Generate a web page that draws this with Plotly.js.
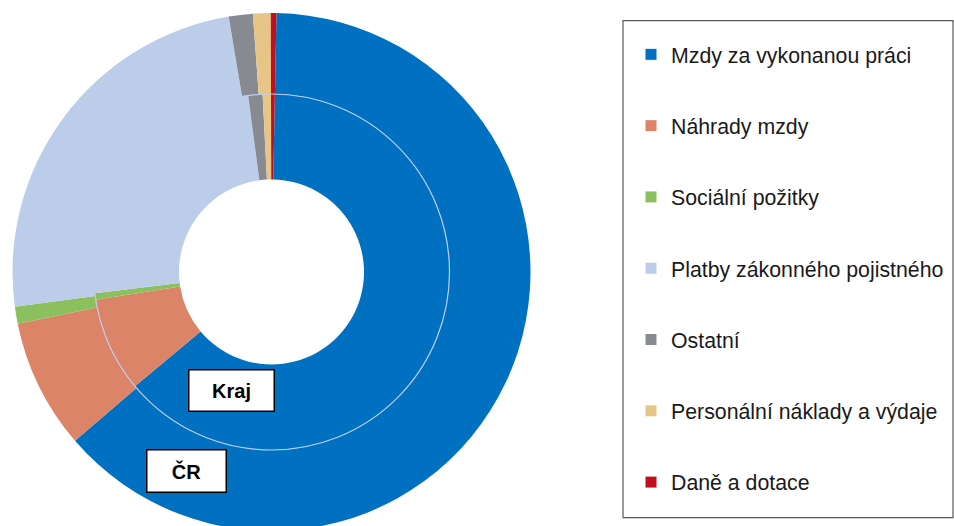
<!DOCTYPE html>
<html>
<head>
<meta charset="utf-8">
<script src="https://cdn.plot.ly/plotly-3.0.1.min.js"></script>
<style>
  html, body { margin: 0; padding: 0; overflow: hidden; background: #fff; }
  #chart { width: 954px; height: 545px; }
</style>
</head>
<body>
<div id="chart"></div>
<script>
// ---- data ----
const categories = [
  'Mzdy za vykonanou práci',
  'Náhrady mzdy',
  'Sociální požitky',
  'Platby zákonného pojistného',
  'Ostatní',
  'Personální náklady a výdaje',
  'Daně a dotace'
];
const crValues   = [63.4, 8.1, 1.05, 24.5, 1.5, 1.1, 0.35];   // outer ring (ČR)
const krajValues = [63.6, 8.6, 0.6, 24.8, 1.3, 0.75, 0.35];   // inner ring (Kraj)
const sliceColors = ['#0070C0', '#DB8467', '#8CBF5E', '#BCCDEA', '#878A91', '#E6C587', '#C0101F'];
const ringLabels = ['Kraj', 'ČR'];

// ---- layout geometry (pixels) ----
const W = 954, H = 545;
const cx = 271.5, cy = 272;
const rOuter = 259, rMid = 178, rHole = 92.5;
const px = x => x / W;
const py = y => 1 - y / H;

const FONT = 'Arial, "Liberation Sans", sans-serif';

const traces = [
  {
    type: 'pie', name: 'ČR', labels: categories, values: crValues,
    marker: { colors: sliceColors, line: { width: 0 } },
    sort: false, direction: 'clockwise', rotation: 1.1,
    hole: rMid / rOuter, textinfo: 'none', hoverinfo: 'label+percent',
    showlegend: false,
    domain: { x: [px(cx - rOuter), px(cx + rOuter)], y: [py(cy + rOuter), py(cy - rOuter)] }
  },
  {
    type: 'pie', name: 'Kraj', labels: categories, values: krajValues,
    marker: { colors: sliceColors, line: { width: 0 } },
    sort: false, direction: 'clockwise', rotation: 1.1,
    hole: rHole / rMid, textinfo: 'none', hoverinfo: 'label+percent',
    showlegend: false,
    domain: { x: [px(cx - rMid), px(cx + rMid)], y: [py(cy + rMid), py(cy - rMid)] }
  }
];

// legend entries (one per category, own group for spacing)
categories.forEach((c, i) => {
  traces.push({
    type: 'scatter', mode: 'markers', x: [null], y: [null],
    name: c, legendgroup: 'g' + i,
    marker: { symbol: 'square', size: 11, color: sliceColors[i] },
    hoverinfo: 'skip', showlegend: true
  });
});

const layout = {
  width: W, height: H,
  margin: { l: 0, r: 0, t: 0, b: 0 },
  paper_bgcolor: '#ffffff', plot_bgcolor: 'rgba(0,0,0,0)',
  font: { family: FONT, color: '#1a1a1a' },
  xaxis: { visible: false }, yaxis: { visible: false },
  showlegend: true,
  legend: {
    x: px(631), xanchor: 'left', y: py(34), yanchor: 'top',
    font: { family: FONT, size: 21.3, color: '#1a1a1a' },
    tracegroupgap: 40.6, borderwidth: 0, bgcolor: 'rgba(0,0,0,0)',
    itemclick: false, itemdoubleclick: false
  },
  shapes: [
    { type: 'circle', xref: 'paper', yref: 'paper', layer: 'above',
      x0: px(cx - rMid), x1: px(cx + rMid), y0: py(cy + rMid), y1: py(cy - rMid),
      line: { color: '#BCCDEA', width: 1.2 } },
    { type: 'rect', xref: 'paper', yref: 'paper', layer: 'above',
      x0: px(623), x1: px(953), y0: py(517.7), y1: py(20.7),
      line: { color: '#595959', width: 1.2 } }
  ],
  annotations: [
    { text: '<b>' + ringLabels[0] + '</b>', xref: 'paper', yref: 'paper',
      x: px(231.5), y: py(390), xanchor: 'center', yanchor: 'middle', showarrow: false,
      font: { family: FONT, size: 20, color: '#000' },
      bgcolor: '#ffffff', bordercolor: '#000000', borderwidth: 1.5, borderpad: 0,
      width: 84, height: 40 },
    { text: '<b>' + ringLabels[1] + '</b>', xref: 'paper', yref: 'paper',
      x: px(186.7), y: py(471), xanchor: 'center', yanchor: 'middle', showarrow: false,
      font: { family: FONT, size: 20, color: '#000' },
      bgcolor: '#ffffff', bordercolor: '#000000', borderwidth: 1.5, borderpad: 0,
      width: 78, height: 41 }
  ]
};

Plotly.newPlot('chart', traces, layout, { displayModeBar: false, staticPlot: true });
</script>
</body>
</html>
